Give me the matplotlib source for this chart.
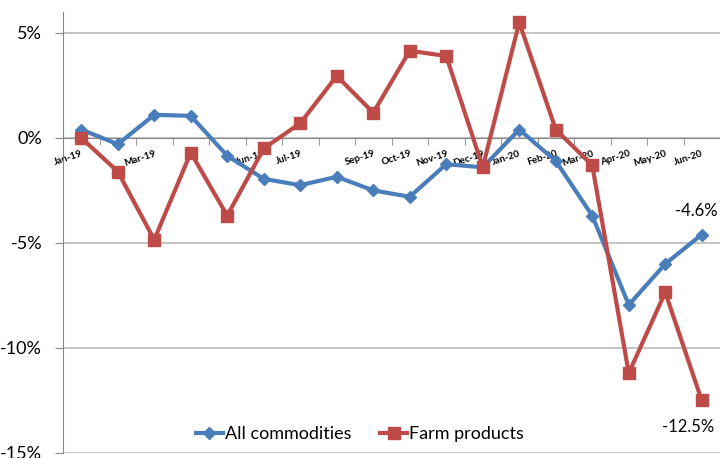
import matplotlib.pyplot as plt
from matplotlib.ticker import FuncFormatter, MultipleLocator

plt.rcParams['font.family'] = ['Lato', 'DejaVu Sans']

# Données
months = ["Jan-19", "Feb-19", "Mar-19", "Apr-19", "May-19", "Jun-19",
          "Jul-19", "Aug-19", "Sep-19", "Oct-19", "Nov-19", "Dec-19",
          "Jan-20", "Feb-20", "Mar-20", "Apr-20", "May-20", "Jun-20"]
shown = ["Jan-19", "Mar-19", "Jun-19", "Jul-19", "Sep-19", "Oct-19", "Nov-19",
         "Dec-19", "Jan-20", "Feb-20", "Mar-20", "Apr-20", "May-20", "Jun-20"]
all_commodities = [0.4, -0.3, 1.1, 1.05, -0.85, -1.95, -2.25, -1.85, -2.5,
                   -2.8, -1.25, -1.4, 0.4, -1.1, -3.7, -7.95, -6.0, -4.6]
farm_products = [0.0, -1.6, -4.85, -0.7, -3.7, -0.5, 0.7, 2.95, 1.2,
                 4.15, 3.9, -1.4, 5.5, 0.4, -1.3, -11.2, -7.35, -12.5]

blue = "#4A7EBB"
red = "#BE4B48"

fig = plt.figure(figsize=(7.2, 4.58), dpi=100)
ax = fig.add_axes([0.0875, 0.011, 0.9125, 0.963])

x = list(range(len(months)))
ax.plot(x, all_commodities, color=blue, lw=3, marker="D", ms=6,
        label="All commodities", zorder=3)
ax.plot(x, farm_products, color=red, lw=3, marker="s", ms=9,
        label="Farm products", zorder=3)

ax.set_xlim(-0.5, len(months) - 0.5)
ax.set_ylim(-15, 6)
ax.yaxis.set_major_locator(MultipleLocator(5))
ax.yaxis.set_major_formatter(FuncFormatter(lambda v, p: f"{v:.0f}%"))
ax.grid(axis="y", color="#BFBFBF", lw=1.3)
ax.set_axisbelow(True)
ax.tick_params(axis="y", labelsize=13, length=6, color="#868686", pad=9)

# axe des x au niveau 0
ax.spines["bottom"].set_position(("data", 0))
ax.spines["bottom"].set_color("#868686")
ax.spines["left"].set_color("#868686")
ax.spines["top"].set_visible(False)
ax.spines["right"].set_visible(False)
ax.set_xticks(x)
ax.set_xticklabels([m if m in shown else "" for m in months],
                   rotation=18, ha="right", rotation_mode="anchor",
                   fontsize=7, fontweight="bold")
ax.set_xticks([i + 0.5 for i in x[:-1]], minor=True)
ax.tick_params(axis="x", which="major", length=0, pad=8)
ax.tick_params(axis="x", which="minor", length=5, color="#868686")

# Étiquettes
ax.annotate("-4.6%", (x[-1], all_commodities[-1]), xytext=(-4, 11),
            textcoords="offset points", ha="center", va="bottom", fontsize=12)
ax.annotate("-12.5%", (x[-1], farm_products[-1]), xytext=(-10, -13),
            textcoords="offset points", ha="center", va="top", fontsize=12)

ax.legend(loc="lower center", ncol=2, frameon=False, fontsize=13,
          handlelength=1.5, handletextpad=0.1, columnspacing=1.6,
          borderaxespad=0.2, bbox_to_anchor=(0.452, 0.0))

plt.savefig("out.png", dpi=100)
plt.close()
